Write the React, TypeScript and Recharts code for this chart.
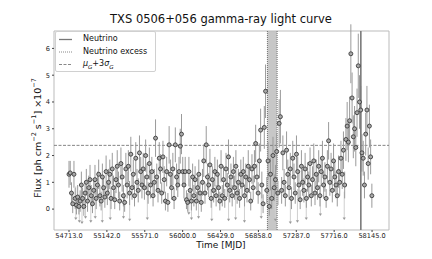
import React from "react";
import {
  ComposedChart,
  Scatter,
  ErrorBar,
  XAxis,
  YAxis,
  ReferenceLine,
  ReferenceArea
} from "recharts";

// light curve: 14-day bins starting at MJD 54713
const binStart = 54713;
const binDays = 14;

const flux = [
  1.3, 1.35, 0.6, 0.2, 1.3, 0.4, 0.15, 0.45, 0.1, 0.3,
  0.9, 0.4, 0.1, 0.6, 1.0, 0.3, 0.8, 1.1, 0.5, 0.2,
  0.7, 1.1, 0.4, 0.9, 1.3, 0.5, 0.3, 1.2, 0.8, 0.45,
  1.4, 0.6, 1.0, 1.3, 0.4, 1.5, 0.8, 0.35, 1.1, 1.6,
  0.9, 0.3, 1.7, 1.2, 0.5, 0.25, 1.5, 0.9, 1.6, 0.6,
  2.05, 0.8, 1.3, 0.5, 1.9, 1.0, 0.7, 2.1, 1.4, 0.9,
  1.5, 0.8, 2.0, 1.2, 0.6, 1.7, 0.9, 1.4, 0.5, 1.0,
  2.65, 1.2, 0.7, 1.9, 1.5, 0.6, 1.95, 1.1, 0.3, 1.4,
  0.25, 2.4, 1.3, 0.8, 1.5, 0.4, 2.4, 1.2, 0.9, 1.4,
  2.35, 2.8, 1.4, 0.9, 1.4, 0.35, 0.25, 1.4, 0.7, 0.3,
  1.2, 0.5, 1.1, 0.3, 0.8, 1.3, 0.6, 0.25, 1.0, 1.8,
  0.6, 2.4, 1.2, 0.9, 1.65, 0.4, 1.1, 0.7, 1.4, 0.5,
  1.3, 0.8, 0.3, 1.6, 0.5, 1.1, 0.4, 1.5, 0.9, 1.95,
  0.7, 1.2, 0.5, 1.4, 0.8, 1.6, 0.6, 1.0, 0.4, 1.3,
  0.9, 1.4, 0.5, 1.2, 0.7, 1.6, 1.1, 0.3, 1.5, 0.8,
  1.6, 2.45, 1.2, 0.6, 1.8, 2.95, 0.9, 0.2, 3.05, 4.4,
  0.7, 1.8, 0.1, 1.3, 0.4, 2.0, 0.8, 1.1, 2.15, 0.6,
  3.2, 3.45, 0.7, 2.1, 1.0, 0.5, 2.2, 1.3, 0.8, 1.5,
  0.4, 1.9, 1.2, 0.6, 2.05, 1.4, 0.9, 0.35, 1.6, 1.0,
  0.7, 1.5, 0.4, 1.2, 0.9, 1.7, 0.5, 1.1, 1.8, 0.6,
  1.3, 0.8, 1.6, 0.5, 1.4, 1.9, 0.9, 1.2, 0.4, 1.6,
  2.55, 1.0, 1.5, 0.7, 1.8, 1.2, 0.9, 0.5, 1.4, 1.0,
  1.9, 1.3, 2.2, 0.9, 2.6, 3.1, 2.5, 3.3, 5.8, 4.15,
  2.7, 3.0, 2.3, 3.6, 5.35, 4.0, 3.7, 2.1, 1.9, 0.9,
  2.8, 3.7, 1.7, 3.1, 1.95, 0.5
];

const fluxErr = [
  0.5, 0.45, 0.4, 0.35, 0.5, 0.4, 0.35, 0.45, 0.3, 0.4,
  0.5, 0.4, 0.35, 0.45, 0.5, 0.4, 0.45, 0.55, 0.4, 0.35,
  0.45, 0.55, 0.4, 0.5, 0.55, 0.4, 0.35, 0.5, 0.45, 0.4,
  0.6, 0.45, 0.5, 0.55, 0.4, 0.6, 0.45, 0.35, 0.5, 0.6,
  0.5, 0.35, 0.6, 0.55, 0.4, 0.35, 0.6, 0.5, 0.6, 0.45,
  0.65, 0.45, 0.55, 0.4, 0.6, 0.5, 0.45, 0.65, 0.55, 0.5,
  0.6, 0.45, 0.6, 0.5, 0.4, 0.6, 0.5, 0.55, 0.4, 0.5,
  0.7, 0.5, 0.45, 0.6, 0.55, 0.4, 0.6, 0.5, 0.35, 0.55,
  0.35, 0.7, 0.55, 0.45, 0.6, 0.4, 0.65, 0.5, 0.45, 0.55,
  0.65, 0.75, 0.55, 0.5, 0.55, 0.35, 0.35, 0.55, 0.45, 0.35,
  0.5, 0.4, 0.5, 0.35, 0.45, 0.55, 0.4, 0.35, 0.5, 0.6,
  0.4, 0.7, 0.5, 0.45, 0.6, 0.35, 0.5, 0.45, 0.55, 0.4,
  0.55, 0.45, 0.35, 0.6, 0.4, 0.5, 0.35, 0.6, 0.45, 0.65,
  0.45, 0.5, 0.4, 0.55, 0.45, 0.6, 0.4, 0.5, 0.35, 0.55,
  0.45, 0.55, 0.4, 0.5, 0.45, 0.6, 0.5, 0.35, 0.55, 0.45,
  0.6, 0.7, 0.5, 0.4, 0.65, 0.8, 0.5, 0.35, 0.8, 1.0,
  0.5, 0.7, 0.35, 0.6, 0.4, 0.7, 0.5, 0.55, 0.7, 0.45,
  0.9, 1.0, 0.5, 0.65, 0.5, 0.4, 0.7, 0.55, 0.45, 0.6,
  0.4, 0.65, 0.5, 0.4, 0.7, 0.55, 0.5, 0.35, 0.6, 0.5,
  0.45, 0.6, 0.35, 0.55, 0.5, 0.6, 0.4, 0.5, 0.65, 0.45,
  0.55, 0.45, 0.6, 0.4, 0.55, 0.65, 0.5, 0.55, 0.35, 0.6,
  0.7, 0.5, 0.6, 0.45, 0.65, 0.55, 0.5, 0.4, 0.6, 0.5,
  0.65, 0.55, 0.7, 0.5, 0.8, 0.9, 0.75, 0.9, 1.1, 0.95,
  0.8, 0.85, 0.7, 0.9, 1.2, 1.0, 0.9, 0.7, 0.65, 0.5,
  0.8, 0.9, 0.6, 0.8, 0.65, 0.45
];

// upper limits (marker position and bar reach above it)
const ulMjd = [
  54790, 54830, 54860, 54900, 54960, 55010, 55090, 55180, 55330, 55400,
  55600, 56070, 56100, 56180, 56330, 56520, 56600, 56700, 56890, 57050,
  57220, 57300, 57400, 57560, 57830
];
const ulFlux = [
  -0.35, -0.45, -0.5, -0.3, -0.45, -0.3, -0.45, -0.35, -0.3, -0.4,
  -0.35, -0.15, -0.35, -0.3, -0.4, -0.4, -0.35, -0.45, -0.3, -0.4,
  -0.5, -0.45, -0.35, -0.2, -0.35
];
const ulReach = [
  1.2, 1.0, 1.3, 0.9, 1.1, 1.0, 1.2, 0.9, 1.1, 1.0,
  1.2, 0.8, 1.0, 1.1, 0.9, 1.2, 1.0, 1.1, 0.9, 1.3,
  1.0, 1.2, 0.9, 1.1, 1.0
];

const xTicks = [54713, 55142, 55571, 56000, 56429, 56858, 57287, 57716, 58145];
const yTicks = [0, 1, 2, 3, 4, 5, 6];
const neutrinoMjd = 58018;
const excessStart = 56960;
const excessEnd = 57070;
const threshold = 2.38;
const xDomain = [54543, 58337];
const yDomain = [-0.78, 6.65];

const points = flux.map((v, i) => ({ x: binStart + i * binDays, y: v, err: fluxErr[i] }));
const limits = ulMjd.map((m, i) => ({ x: m, y: ulFlux[i], err: [0, ulReach[i]] }));

const font = "'DejaVu Sans', sans-serif";

function Dot(props: any) {
  const { cx, cy } = props;
  if (cx == null || cy == null) return null;
  return <circle cx={cx} cy={cy} r={2} fill="#a8a8a8" stroke="#2e2e2e" strokeWidth={0.8} />;
}

function LimitMark(props: any) {
  const { cx, cy } = props;
  if (cx == null || cy == null) return null;
  return <path d={`M${cx - 1.6},${cy - 1} L${cx + 1.6},${cy - 1} L${cx},${cy + 1.5} Z`} fill="#999" />;
}

export default function App() {
  return (
    <div style={{ position: "absolute", left: 0, top: 0, width: 432, height: 259, background: "#fff", fontFamily: font }}>
      <div style={{ position: "absolute", left: 0, top: 12, width: 442, textAlign: "center", fontSize: 11.5, color: "#111" }}>
        TXS 0506+056 gamma-ray light curve
      </div>
      <ComposedChart width={432} height={259} margin={{ top: 31, right: 43, bottom: 16, left: 40 }}>
        <XAxis
          type="number"
          dataKey="x"
          domain={xDomain}
          ticks={xTicks}
          allowDataOverflow
          tickFormatter={(v: number) => v.toFixed(1)}
          tick={{ fontSize: 6.6, fill: "#222", fontFamily: font }}
          tickSize={2}
          tickMargin={1}
          tickLine={{ stroke: "#444" }}
          axisLine={false}
          height={13}
        />
        <YAxis
          type="number"
          dataKey="y"
          domain={yDomain}
          ticks={yTicks}
          allowDataOverflow
          tick={{ fontSize: 6.6, fill: "#222", fontFamily: font }}
          tickSize={2}
          tickMargin={2}
          tickLine={{ stroke: "#444" }}
          axisLine={false}
          width={14}
        />
        <ReferenceArea x1={excessStart} x2={excessEnd} y1={yDomain[0]} y2={yDomain[1]} fill="#bdbdbd" fillOpacity={0.85} stroke="none" />
        <ReferenceLine x={excessStart} stroke="#555" strokeDasharray="1 1" strokeWidth={0.8} />
        <ReferenceLine x={excessEnd} stroke="#555" strokeDasharray="1 1" strokeWidth={0.8} />
        <ReferenceLine y={threshold} stroke="#777" strokeDasharray="3 1.5" strokeWidth={0.9} />
        <Scatter data={limits} shape={<LimitMark />} isAnimationActive={false}>
          <ErrorBar dataKey="err" direction="y" width={0} stroke="#cfcfcf" strokeWidth={1} />
        </Scatter>
        <Scatter data={points} shape={<Dot />} isAnimationActive={false}>
          <ErrorBar dataKey="err" direction="y" width={0} stroke="#9a9a9a" strokeWidth={1} />
        </Scatter>
        <ReferenceLine x={neutrinoMjd} stroke="#7a7a7a" strokeWidth={1.6} />
        <ReferenceArea x1={xDomain[0]} x2={xDomain[1]} y1={yDomain[0]} y2={yDomain[1]} fill="none" stroke="#bbb" strokeWidth={1} />
      </ComposedChart>
      <div style={{ position: "absolute", left: 0, top: 240, width: 442, textAlign: "center", fontSize: 9, lineHeight: "11px", color: "#111" }}>
        Time [MJD]
      </div>
      <div
        style={{
          position: "absolute",
          left: 37,
          top: 138,
          transform: "translate(-50%, -50%) rotate(-90deg)",
          whiteSpace: "nowrap",
          fontSize: 9.5,
          lineHeight: "11px",
          color: "#111"
        }}
      >
        Flux [ph cm<sup style={{ fontSize: 6.5, lineHeight: 0 }}>−2</sup> s<sup style={{ fontSize: 6.5, lineHeight: 0 }}>−1</sup>] ×10<sup style={{ fontSize: 6.5, lineHeight: 0 }}>−7</sup>
      </div>
      <div
        style={{
          position: "absolute",
          left: 55,
          top: 31,
          width: 101,
          height: 41,
          boxSizing: "border-box",
          border: "1px solid #d0d0d0",
          borderRadius: 2,
          background: "rgba(255,255,255,0.9)",
          fontSize: 8,
          color: "#111"
        }}
      >
        <svg width={101} height={41} style={{ position: "absolute", left: 0, top: 0 }}>
          <line x1={3} x2={16} y1={7.5} y2={7.5} stroke="#777" strokeWidth={1.3} />
          <line x1={3} x2={16} y1={20} y2={20} stroke="#888" strokeWidth={1} strokeDasharray="1 1" />
          <line x1={3} x2={16} y1={32.5} y2={32.5} stroke="#888" strokeWidth={1} strokeDasharray="3 1.5" />
        </svg>
        <div style={{ position: "absolute", left: 27, top: 2, lineHeight: "10px" }}>Neutrino</div>
        <div style={{ position: "absolute", left: 27, top: 14.5, lineHeight: "10px" }}>Neutrino excess</div>
        <div style={{ position: "absolute", left: 27, top: 27, lineHeight: "10px" }}>
          <i>μ</i><sub style={{ fontSize: 5.5 }}><i>G</i></sub>+3<i>σ</i><sub style={{ fontSize: 5.5 }}><i>G</i></sub>
        </div>
      </div>
    </div>
  );
}
